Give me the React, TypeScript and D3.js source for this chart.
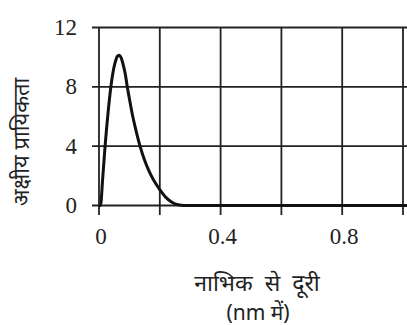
import * as d3 from 'd3';

// radial probability curve
const distance = [0, 0.005, 0.012, 0.02, 0.03, 0.039, 0.048, 0.056, 0.061, 0.067, 0.073, 0.08, 0.087, 0.093, 0.1, 0.11, 0.12, 0.135, 0.15, 0.165, 0.18, 0.2, 0.22, 0.24, 0.26, 0.28, 0.3, 0.5, 0.7, 0.9, 1.02];
const probability = [0, 0, 1.8, 4.0, 6.3, 8.0, 9.2, 9.85, 10.07, 10.13, 9.95, 9.45, 8.8, 8.0, 7.2, 6.1, 5.2, 4.0, 3.05, 2.3, 1.7, 1.07, 0.55, 0.22, 0.05, 0, 0, 0, 0, 0, 0];

const yTicks = [0, 4, 8, 12];
const xGrid = [0, 0.2, 0.4, 0.6, 0.8, 1.0];
const xLabels = [0, 0.4, 0.8];

const yTitle = 'अक्षीय प्रायिकता';
const xTitle = 'नाभिक से दूरी';
const xUnit = '(nm में)';

export default function App() {
  const width = 407;
  const height = 325;

  const x = d3.scaleLinear().domain([0, 1]).range([99, 403]);
  const y = d3.scaleLinear().domain([0, 12]).range([205.5, 27.5]);

  const points: [number, number][] = distance.map((d, i) => [d, probability[i]]);
  const line = d3
    .line<[number, number]>()
    .x((d) => x(d[0]))
    .y((d) => y(d[1]))
    .curve(d3.curveMonotoneX);

  const serif = 'Liberation Serif, Times New Roman, serif';
  const sans = 'Noto Sans, DejaVu Sans, sans-serif';

  return (
    <svg
      width={width}
      height={height}
      viewBox={`0 0 ${width} ${height}`}
      style={{ position: 'absolute', left: 0, top: 0, background: '#fff' }}
    >
      {/* horizontal grid + y ticks */}
      {yTicks.map((t) => (
        <line key={`h${t}`} x1={92} x2={width} y1={y(t)} y2={y(t)} stroke="#222" strokeWidth={1.8} />
      ))}
      {/* vertical grid + x ticks */}
      {xGrid.map((t) => (
        <line key={`v${t}`} x1={x(t)} x2={x(t)} y1={y(12)} y2={215} stroke="#222" strokeWidth={1.8} />
      ))}

      {yTicks.map((t) => (
        <text key={`yl${t}`} x={77} y={y(t) + 7.5} textAnchor="end" fontSize={23} fontFamily={serif} fill="#222">
          {t}
        </text>
      ))}
      {xLabels.map((t) => (
        <text key={`xl${t}`} x={x(t) + 2} y={243.5} textAnchor="middle" fontSize={23} fontFamily={serif} fill="#222">
          {t}
        </text>
      ))}

      <path d={line(points) ?? ''} fill="none" stroke="#111" strokeWidth={3} strokeLinejoin="round" />

      <text transform="translate(29,142) rotate(-90)" textAnchor="middle" fontSize={22} fontFamily={sans} fill="#222">
        {yTitle}
      </text>
      <text x={257} y={291} textAnchor="middle" fontSize={23} wordSpacing={6} fontFamily={sans} fill="#222">
        {xTitle}
      </text>
      <text x={258} y={320} textAnchor="middle" fontSize={21} fontFamily={sans} fill="#222">
        {xUnit}
      </text>
    </svg>
  );
}
